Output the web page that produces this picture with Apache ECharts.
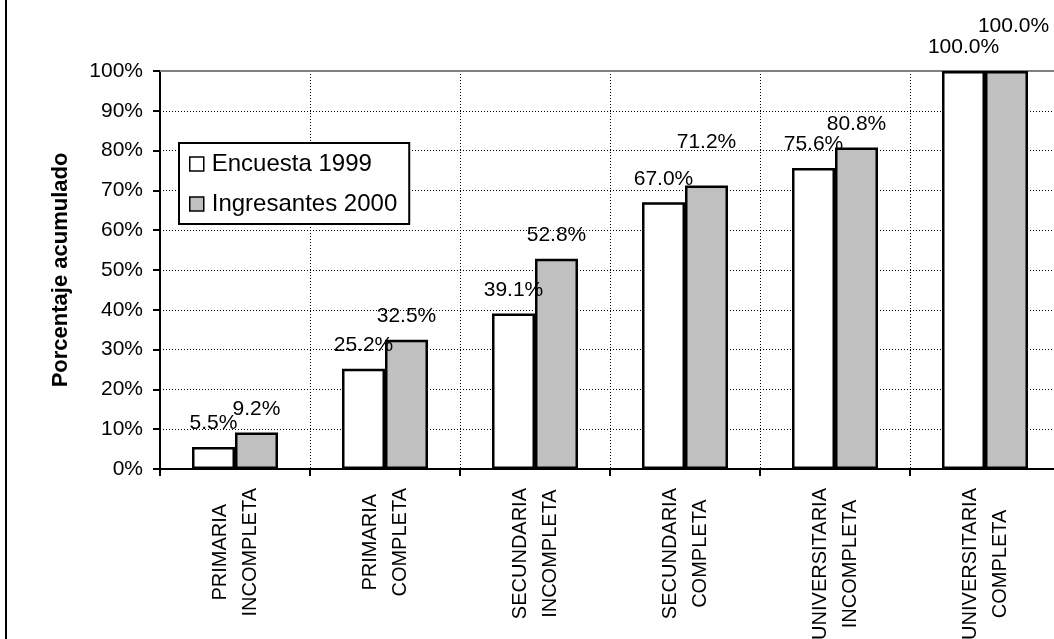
<!DOCTYPE html>
<html>
<head>
<meta charset="utf-8">
<script src="https://cdn.jsdelivr.net/npm/echarts@6/dist/echarts.min.js"></script>
<style>
html,body{margin:0;padding:0;background:#fff;}
#chart{width:1054px;height:639px;}
#frame{position:absolute;left:5px;top:0;width:2px;height:639px;background:#000;}
</style>
</head>
<body>
<div id="chart"></div>
<div id="frame"></div>
<script>
const categories = ['PRIMARIA\nINCOMPLETA','PRIMARIA\nCOMPLETA','SECUNDARIA\nINCOMPLETA','SECUNDARIA\nCOMPLETA','UNIVERSITARIA\nINCOMPLETA','UNIVERSITARIA\nCOMPLETA'];
const seriesNames = ['Encuesta 1999','Ingresantes 2000'];
const encuesta1999 = [5.5, 25.2, 39.1, 67.0, 75.6, 100.0];
const ingresantes2000 = [9.2, 32.5, 52.8, 71.2, 80.8, 100.0];
const yTicks = [0,10,20,30,40,50,60,70,80,90,100];

const FONT = '"Liberation Sans", Arial, sans-serif';
// label offsets for labels moved to avoid overlap (style only)
const labelOffsets = {1: {3: [0,-20], 5: [7,-21]}};

function buildData(values, si) {
  return values.map((v, i) => {
    const off = labelOffsets[si] && labelOffsets[si][i];
    return off ? {value: v, label: {offset: off}} : v;
  });
}

const chart = echarts.init(document.getElementById('chart'), null, {renderer:'canvas'});
const barCommon = {
  type: 'bar',
  barWidth: 43,
  barGap: '0%',
  label: {
    show: true, position: 'top', distance: 13,
    color: '#000', fontSize: 21, fontFamily: FONT,
    formatter: p => p.value.toFixed(1) + '%'
  }
};
chart.setOption({
  animation: false,
  backgroundColor: '#fff',
  textStyle: {fontFamily: FONT},
  grid: {left: 160, top: 71, width: 900, height: 398, containLabel: false, outerBoundsMode: 'none'},
  legend: {
    left: 179, top: 143, orient: 'vertical',
    data: seriesNames,
    icon: 'rect', itemWidth: 14, itemHeight: 14, itemGap: 14,
    padding: [8, 12, 7, 10],
    borderColor: '#000', borderWidth: 2, backgroundColor: '#fff',
    textStyle: {fontSize: 24, color: '#000', fontFamily: FONT, lineHeight: 26, padding: [0,0,0,3]},
    itemStyle: {borderColor: '#000', borderWidth: 1.5}
  },
  xAxis: [{
    type: 'category', data: categories, boundaryGap: true,
    axisLine: {show: true, lineStyle: {color: '#000', width: 2}},
    axisTick: {show: true, length: 7, interval: 0, lineStyle: {color: '#000', width: 2}},
    splitLine: {show: true, interval: 0, lineStyle: {color: '#000', width: 1, type: [1, 2]}},
    axisLabel: {
      interval: 0, rotate: 90, margin: 19, color: '#000',
      fontSize: 20, fontFamily: FONT,
      formatter: v => v.split('\n').map(s => '{c|' + s + '}').join('\n'),
      rich: {c: {align: 'center', fontSize: 20, lineHeight: 30, fontFamily: FONT, color: '#000'}}
    }
  }, {
    type: 'category', data: categories, position: 'top', boundaryGap: true,
    axisLine: {show: true, lineStyle: {color: '#808080', width: 2}},
    axisTick: {show: false}, axisLabel: {show: false}, splitLine: {show: false}
  }],
  yAxis: {
    type: 'value', min: yTicks[0], max: yTicks[yTicks.length-1], interval: 10,
    name: 'Porcentaje acumulado', nameLocation: 'middle', nameGap: 88,
    nameTextStyle: {fontSize: 22, fontWeight: 'bold', color: '#000', fontFamily: FONT},
    axisLine: {show: true, lineStyle: {color: '#000', width: 2}},
    axisTick: {show: true, length: 7, lineStyle: {color: '#000', width: 2}},
    splitLine: {show: true, lineStyle: {color: '#000', width: 1, type: [1, 2]}},
    axisLabel: {margin: 17, color: '#000', fontSize: 21, fontFamily: FONT, formatter: '{value}%'}
  },
  series: [
    Object.assign({}, barCommon, {
      name: seriesNames[0], data: buildData(encuesta1999, 0),
      itemStyle: {color: '#ffffff', borderColor: '#000', borderWidth: 2.5}
    }),
    Object.assign({}, barCommon, {
      name: seriesNames[1], data: buildData(ingresantes2000, 1),
      itemStyle: {color: '#c0c0c0', borderColor: '#000', borderWidth: 2.5}
    })
  ]
});
</script>
</body>
</html>
